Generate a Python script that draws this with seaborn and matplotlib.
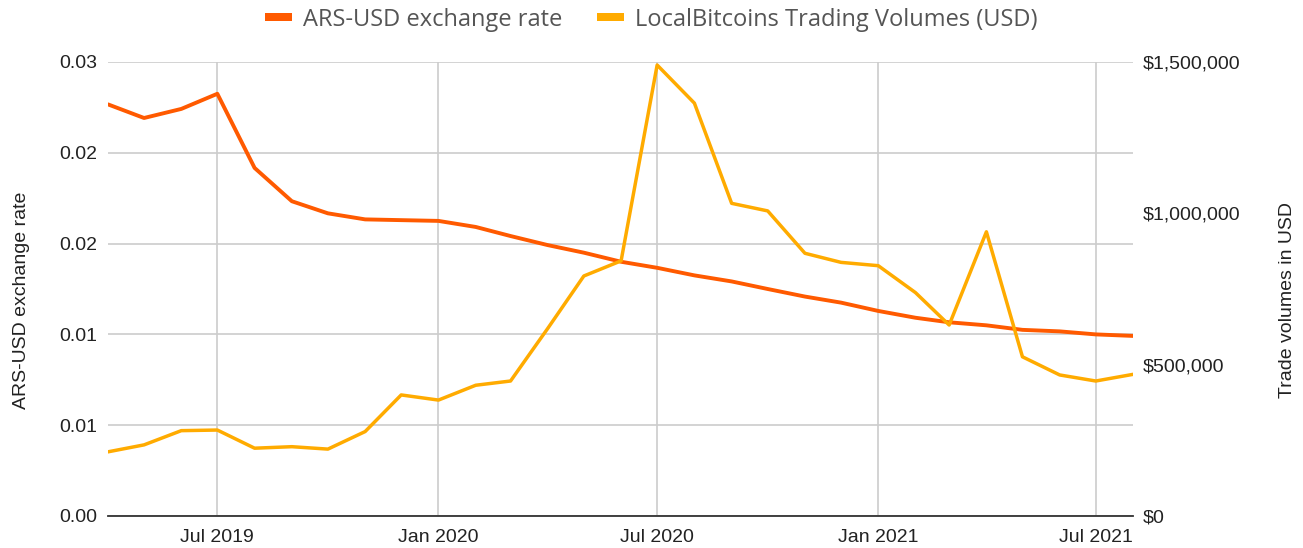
import matplotlib
matplotlib.use("Agg")
import matplotlib.pyplot as plt
import matplotlib.dates as mdates
import seaborn as sns
import pandas as pd
from matplotlib.patches import Patch
from matplotlib.ticker import FuncFormatter

months = pd.date_range("2019-04-01", periods=29, freq="MS")
ars_usd = [0.0272, 0.0263, 0.0269, 0.0279, 0.0230, 0.0208, 0.0200, 0.0196, 0.01955,
           0.0195, 0.0191, 0.0185, 0.0179, 0.0174, 0.0168, 0.0164, 0.0159, 0.0155,
           0.0150, 0.0145, 0.0141, 0.01355, 0.0131, 0.0128, 0.0126, 0.0123, 0.0122,
           0.0120, 0.0119]
volumes = [212000, 235000, 282000, 284000, 224000, 229000, 221000, 279000, 400000,
           383000, 432000, 446000, 620000, 793000, 843000, 1490000, 1364000, 1033000,
           1008000, 868000, 838000, 827000, 738000, 631000, 939000, 526000, 466000,
           446000, 468000]
left_ticks = [0.0, 0.006, 0.012, 0.018, 0.024, 0.03]
left_labels = ["0.00", "0.01", "0.01", "0.02", "0.02", "0.03"]
right_ticks = [0, 500000, 1000000, 1500000]
x_ticks = pd.to_datetime(["2019-07-01", "2020-01-01", "2020-07-01", "2021-01-01", "2021-07-01"])
series_names = ["ARS-USD exchange rate", "LocalBitcoins Trading Volumes (USD)"]

df = pd.DataFrame({"month": months, "ars": ars_usd, "vol": volumes})

sns.set_theme(style="white")
plt.rcParams["font.family"] = ["Liberation Sans", "DejaVu Sans"]

C_ARS = "#FF5A00"
C_VOL = "#FFAB00"
TXT = "#222222"

fig = plt.figure(figsize=(13.03, 5.48), dpi=100)
ax = fig.add_axes([108/1303, 32/548, (1133-108)/1303, (516-62)/548])
ax2 = ax.twinx()

sns.lineplot(data=df, x="month", y="ars", ax=ax, color=C_ARS, linewidth=2.8, zorder=3)
sns.lineplot(data=df, x="month", y="vol", ax=ax2, color=C_VOL, linewidth=2.5, zorder=4)

ax.set_xlim(months[0], months[-1])
ax.set_ylim(0, 0.03)
ax2.set_ylim(0, 1500000)
ax.set_yticks(left_ticks)
ax.set_yticklabels(left_labels)
ax2.set_yticks(right_ticks)
ax2.yaxis.set_major_formatter(FuncFormatter(lambda v, p: "${:,.0f}".format(v)))
ax.set_xticks(x_ticks)
ax.xaxis.set_major_formatter(mdates.DateFormatter("%b %Y"))

ax.grid(True, color="#CCCCCC", linewidth=1.2)
ax2.grid(False)
for a in (ax, ax2):
    for s in a.spines.values():
        s.set_visible(False)
ax.spines["bottom"].set_visible(True)
ax.spines["bottom"].set_color("#333333")
ax.spines["bottom"].set_linewidth(1.3)

ax.tick_params(axis="x", length=0, labelsize=14, colors=TXT, pad=9)
ax.tick_params(axis="y", length=0, labelsize=14, colors=TXT, pad=8)
ax2.tick_params(axis="y", length=0, labelsize=14, colors=TXT, pad=7)

ax.set_xlabel("")
ax.set_ylabel("")
ax2.set_ylabel("")
fig.text(22/1303, 1 - 300/548, "ARS-USD exchange rate", rotation=90, ha="center",
         va="center", fontsize=14, color=TXT)
fig.text(1287/1303, 1 - 300/548, "Trade volumes in USD", rotation=90, ha="center",
         va="center", fontsize=14, color=TXT)

handles = [Patch(facecolor=C_ARS, edgecolor="none"), Patch(facecolor=C_VOL, edgecolor="none")]
fig.legend(handles, series_names,
           loc="center", bbox_to_anchor=(0.5, 1 - 20/548), ncol=2, frameon=False,
           handlelength=1.15, handleheight=0.15, handletextpad=0.47,
           columnspacing=1.45, labelcolor="#555555",
           prop={"family": ["Open Sans", "DejaVu Sans"], "size": 17})

fig.savefig("out.png", dpi=100)
